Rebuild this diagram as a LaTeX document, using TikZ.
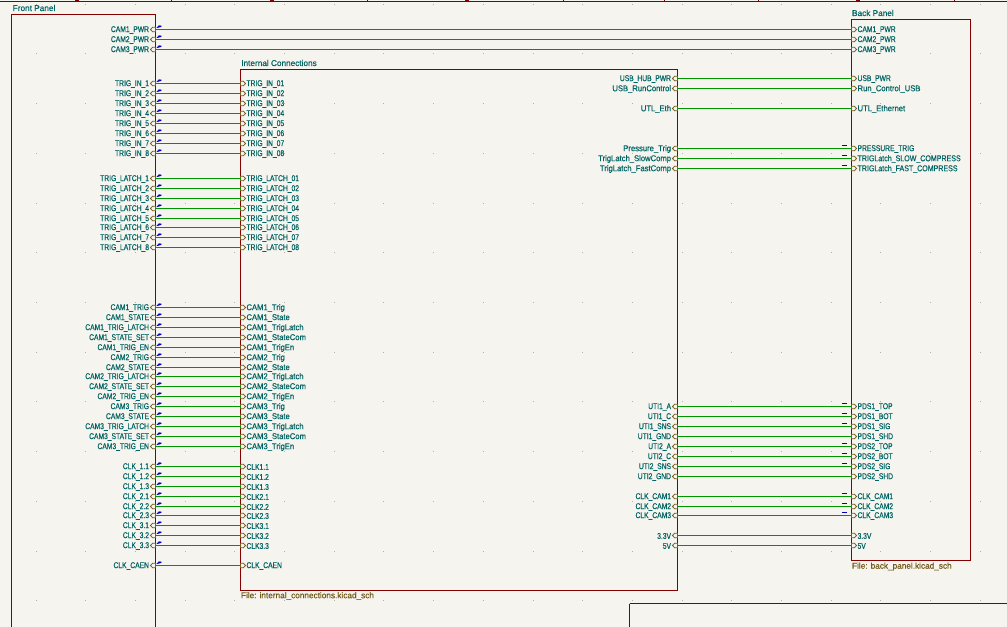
\documentclass[tikz,border=0pt]{standalone}
\usepackage{fontspec}
\setmainfont[FakeStretch=0.80,FakeBold=0.4]{Liberation Sans}
\newfontfamily\mxf[FakeStretch=0.91,FakeBold=0.4]{Liberation Sans}
\newfontfamily\ttlf[FakeStretch=0.98,FakeBold=0.4]{Liberation Sans}
\newfontfamily\wdf[FakeStretch=0.84,FakeBold=0.4]{Liberation Sans}
\definecolor{bgc}{HTML}{F5F4EF}
\definecolor{sheetc}{HTML}{840000}
\definecolor{wirec}{HTML}{009600}
\definecolor{labc}{HTML}{006464}
\definecolor{filec}{HTML}{72591A}
\definecolor{flagc}{HTML}{0000C2}
\definecolor{dotc}{HTML}{B0B0AC}
\tikzset{
  sheetbox/.style={draw=sheetc,line width=0.85pt},
  wire/.style={draw=wirec,line width=0.8pt},
  pintxt/.style={text=labc,font=\fontsize{6.3}{7}\selectfont,inner sep=0pt},
  filetxt/.style={text=filec,font=\fontsize{6.3}{7}\selectfont\ttlf,inner sep=0pt,anchor=west},
  titletxt/.style={text=labc,font=\fontsize{6.3}{7}\selectfont\ttlf,inner sep=0pt,anchor=west},
  pinmark/.style={draw=filec,line width=0.6pt,fill=bgc},
  flagm/.style={fill=flagc,draw=flagc,line width=0.3pt},
  flagn/.style={draw=flagc,line width=0.55pt}
}
\newcommand{\pinR}[2]{\draw[pinmark] (#1,#2-2.2)--(#1+3,#2-2.2)--(#1+5,#2)--(#1+3,#2+2.2)--(#1,#2+2.2)--cycle;}
\newcommand{\pinL}[2]{\draw[pinmark] (#1,#2-2.2)--(#1-3,#2-2.2)--(#1-5,#2)--(#1-3,#2+2.2)--(#1,#2+2.2)--cycle;}
\newcommand{\flagL}[1]{\draw[flagm] (157,#1-1.8)--(159,#1-3.8)--(161.2,#1-3.6)--(161.2,#1-2.8)--cycle;}
\newcommand{\flagR}[1]{\draw[flagn] (842.3,#1-2.7)--(847.3,#1-2.7);}
\newcommand{\LL}[3]{\node[pintxt,anchor=east] at (149.3,#1+0.5) {#2};\pinL{155.5}{#1}\flagL{#1}\node[pintxt,anchor=west] at (246.2,#1+0.5) {#3};\pinR{240.5}{#1}\draw[wire] (155.5,#1)--(240.5,#1);}
\newcommand{\RR}[3]{\node[pintxt,anchor=east] at (671.3,#1+0.5) {#2};\pinL{677.5}{#1}\node[pintxt,anchor=west] at (857.3,#1+0.5) {#3};\pinR{851.5}{#1}\draw[wire] (677.5,#1)--(851.5,#1);}
\newcommand{\RF}[3]{\RR{#1}{#2}{#3}\flagR{#1}}
\begin{document}
\begin{tikzpicture}[x=0.75pt,y=-0.75pt]
\useasboundingbox (0,0) rectangle (1007,627);
\fill[bgc] (0,0) rectangle (1007,627);
\foreach \i in {0,...,19}{\foreach \j in {0,...,12}{
  \fill[dotc] ({36+49.7*\i-0.5},{4.3+49.7*\j-0.5}) rectangle +(1,1);}}
\draw[sheetc,line width=0.85pt] (0,1.5)--(1007,1.5);
\foreach \x in {171.7,367.7,563,664,758,954}{\draw[sheetc,line width=0.6pt] (\x,0)--(\x,1.5);}
\foreach \x in {77,271.7,467,858}{\fill[sheetc] (\x-2,0) rectangle (\x+2,2);}
\draw[sheetbox] (11.5,14.5) rectangle (155.5,640);
\draw[sheetbox] (240.5,69.5) rectangle (677.5,590.5);
\draw[sheetbox] (851.5,19.5) rectangle (970.5,560.5);
\draw[sheetbox] (629.5,603.5)--(1010,603.5) (629.5,603.5)--(629.5,640);
\node[titletxt] at (12.5,8) {Front Panel};
\node[titletxt] at (241,63) {Internal Connections};
\node[titletxt] at (851.8,13) {Back Panel};
\node[filetxt] at (240.7,596) {File: internal\_connections.kicad\_sch};
\node[filetxt] at (851.8,566.5) {File: back\_panel.kicad\_sch};
% CAM power
\foreach \y/\t in {29.5/CAM1\_PWR,39.5/CAM2\_PWR,49.5/CAM3\_PWR}{
  \node[pintxt,anchor=east] at (149.3,\y+0.5) {\t};
  \pinL{155.5}{\y}
  \flagL{\y}
  \node[pintxt,anchor=west] at (857.3,\y+0.5) {\t};
  \pinR{851.5}{\y}
  \draw[wire] (155.5,\y)--(851.5,\y);
}
\LL{83.5}{TRIG\_IN\_1}{TRIG\_IN\_01}
\LL{93.5}{TRIG\_IN\_2}{TRIG\_IN\_02}
\LL{103.5}{TRIG\_IN\_3}{TRIG\_IN\_03}
\LL{113.5}{TRIG\_IN\_4}{TRIG\_IN\_04}
\LL{123.5}{TRIG\_IN\_5}{TRIG\_IN\_05}
\LL{133.5}{TRIG\_IN\_6}{TRIG\_IN\_06}
\LL{143.5}{TRIG\_IN\_7}{TRIG\_IN\_07}
\LL{153.5}{TRIG\_IN\_8}{TRIG\_IN\_08}
\LL{178.5}{TRIG\_LATCH\_1}{TRIG\_LATCH\_01}
\LL{188.5}{TRIG\_LATCH\_2}{TRIG\_LATCH\_02}
\LL{198.5}{TRIG\_LATCH\_3}{TRIG\_LATCH\_03}
\LL{208.5}{TRIG\_LATCH\_4}{TRIG\_LATCH\_04}
\LL{218.5}{TRIG\_LATCH\_5}{TRIG\_LATCH\_05}
\LL{227.5}{TRIG\_LATCH\_6}{TRIG\_LATCH\_06}
\LL{237.5}{TRIG\_LATCH\_7}{TRIG\_LATCH\_07}
\LL{247.5}{TRIG\_LATCH\_8}{TRIG\_LATCH\_08}
\LL{307.5}{CAM1\_TRIG}{\mxf CAM1\_Trig}
\LL{317.5}{CAM1\_STATE}{\mxf CAM1\_State}
\LL{327.5}{CAM1\_TRIG\_LATCH}{\mxf CAM1\_TrigLatch}
\LL{337.5}{CAM1\_STATE\_SET}{\mxf CAM1\_StateCom}
\LL{347.5}{CAM1\_TRIG\_EN}{\mxf CAM1\_TrigEn}
\LL{357.5}{CAM2\_TRIG}{\mxf CAM2\_Trig}
\LL{367.5}{CAM2\_STATE}{\mxf CAM2\_State}
\LL{376.5}{CAM2\_TRIG\_LATCH}{\mxf CAM2\_TrigLatch}
\LL{386.5}{CAM2\_STATE\_SET}{\mxf CAM2\_StateCom}
\LL{396.5}{CAM2\_TRIG\_EN}{\mxf CAM2\_TrigEn}
\LL{406.5}{CAM3\_TRIG}{\mxf CAM3\_Trig}
\LL{416.5}{CAM3\_STATE}{\mxf CAM3\_State}
\LL{426.5}{CAM3\_TRIG\_LATCH}{\mxf CAM3\_TrigLatch}
\LL{436.5}{CAM3\_STATE\_SET}{\mxf CAM3\_StateCom}
\LL{446.5}{CAM3\_TRIG\_EN}{\mxf CAM3\_TrigEn}
\LL{466.5}{CLK\_1.1}{CLK1.1}
\LL{476.5}{CLK\_1.2}{CLK1.2}
\LL{486.5}{CLK\_1.3}{CLK1.3}
\LL{496.5}{CLK\_2.1}{CLK2.1}
\LL{506.5}{CLK\_2.2}{CLK2.2}
\LL{515.5}{CLK\_2.3}{CLK2.3}
\LL{525.5}{CLK\_3.1}{CLK3.1}
\LL{535.5}{CLK\_3.2}{CLK3.2}
\LL{545.5}{CLK\_3.3}{CLK3.3}
\LL{565.5}{CLK\_CAEN}{CLK\_CAEN}
\RR{78.5}{USB\_HUB\_PWR}{USB\_PWR}
\RR{88.5}{\mxf USB\_RunControl}{\mxf Run\_Control\_USB}
\RR{108.5}{\mxf UTL\_Eth}{\mxf UTL\_Ethernet}
\RF{148.5}{\mxf Pressure\_Trig}{PRESSURE\_TRIG}
\RF{158.5}{\mxf TrigLatch\_SlowComp}{\wdf TRIGLatch\_SLOW\_COMPRESS}
\RF{168.5}{\mxf TrigLatch\_FastComp}{\wdf TRIGLatch\_FAST\_COMPRESS}
\RF{406.5}{UTI1\_A}{PDS1\_TOP}
\RF{416.5}{UTI1\_C}{PDS1\_BOT}
\RF{426.5}{UTI1\_SNS}{PDS1\_SIG}
\RR{436.5}{UTI1\_GND}{PDS1\_SHD}
\RF{446.5}{UTI2\_A}{PDS2\_TOP}
\RF{456.5}{UTI2\_C}{PDS2\_BOT}
\RF{466.5}{UTI2\_SNS}{PDS2\_SIG}
\RR{476.5}{UTI2\_GND}{PDS2\_SHD}
\RF{496.5}{CLK\_CAM1}{CLK\_CAM1}
\RF{506.5}{CLK\_CAM2}{CLK\_CAM2}
\RF{515.5}{CLK\_CAM3}{CLK\_CAM3}
\RR{535.5}{3.3V}{3.3V}
\RR{545.5}{5V}{5V}
\end{tikzpicture}
\end{document}
